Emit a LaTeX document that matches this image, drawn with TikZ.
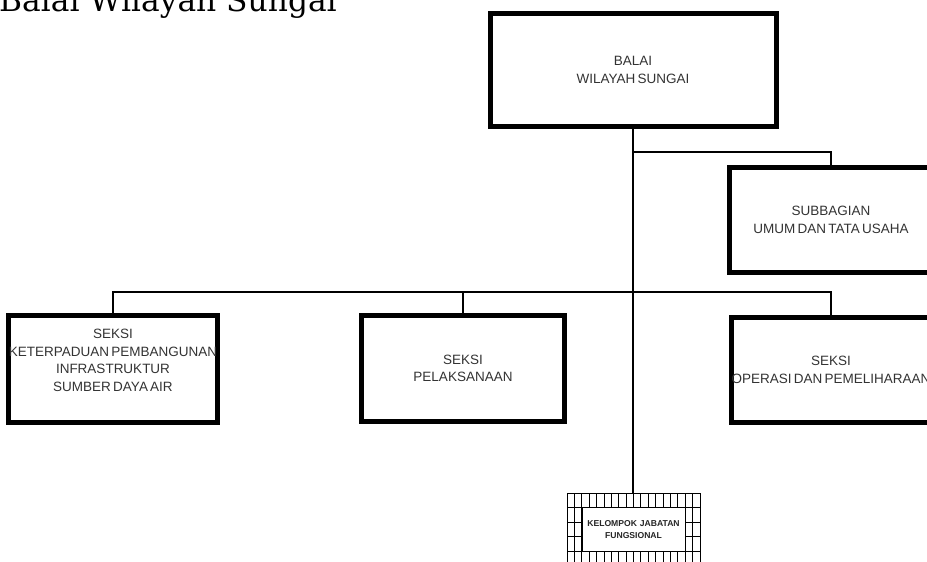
\documentclass[tikz,border=0pt]{standalone}
\usepackage{fontspec}
\setmainfont{Liberation Sans}[WordSpace=0.6]
\newfontfamily\judulfont{DejaVu Serif}
\usepackage{tikz}

\begin{document}
\begin{tikzpicture}[x=1pt,y=-1pt,
        kotak/.style={rectangle,draw,line width=5pt,inner sep=0pt,align=center,
            text=black!80,font=\fontsize{13.5}{17.5}\selectfont},
        grup/.style={rectangle,draw,fill=white,line width=0.8pt,inner sep=0pt,align=center,
            text=black!85,font=\bfseries\fontsize{8.6}{12.5}\selectfont},
        link/.style={line width=2.2pt},
        rasterline/.style={line width=0.8pt},
        judul/.style={font=\judulfont\fontsize{31.3}{33}\selectfont}]

    \useasboundingbox (0,0) rectangle (927,562);
    \clip (0,0) rectangle (927,562);

    % Title
    \node[judul,anchor=base west,inner sep=0pt] (judul) at (-1,12) {Balai Wilayah Sungai};

    % Level 0
    \node[kotak,minimum width=286pt,minimum height=113pt] (balai) at (633,70) {BALAI\\WILAYAH SUNGAI};

    % Level 1
    \node[kotak,minimum width=203pt,minimum height=105pt] (subbagian) at (831,220) {SUBBAGIAN\\UMUM DAN TATA USAHA};

    % Level 2
    \node[kotak,minimum width=204pt,minimum height=107pt] (seksi1) at (113,369) {SEKSI\\KETERPADUAN PEMBANGUNAN\\INFRASTRUKTUR\\SUMBER DAYA AIR\\\mbox{}};
    \node[kotak,minimum width=203pt,minimum height=106pt] (seksi2) at (463,368.5) {SEKSI\\PELAKSANAAN};
    \node[kotak,minimum width=197pt,minimum height=105pt] (seksi3) at (831,370) {SEKSI\\OPERASI DAN PEMELIHARAAN};

    % Kelompok jabatan fungsional
    \foreach \i in {0,...,18}
        \draw[rasterline] (567+\i*7.389,493) -- (567+\i*7.389,570);
    \foreach \j in {0,...,5}
        \draw[rasterline] (567,493+\j*14.6) -- (700,493+\j*14.6);
    \coordinate (kelompokatas) at (633,493);
    \node[grup,minimum width=103pt,minimum height=44pt] (kelompok) at (633.5,529.5) {KELOMPOK\ \ JABATAN\\FUNGSIONAL};

    % Edges
    \coordinate (cabang) at (0,152);
    \coordinate (bus) at (0,292);
    \draw[link] (balai.south) -- (kelompokatas);
    \draw[link] (balai.south |- cabang) -| (subbagian.north);
    \draw[link] (seksi1.north) -- (seksi1.north |- bus) -- (seksi3.north |- bus) -- (seksi3.north);
    \draw[link] (seksi2.north |- bus) -- (seksi2.north);
\end{tikzpicture}
\end{document}
